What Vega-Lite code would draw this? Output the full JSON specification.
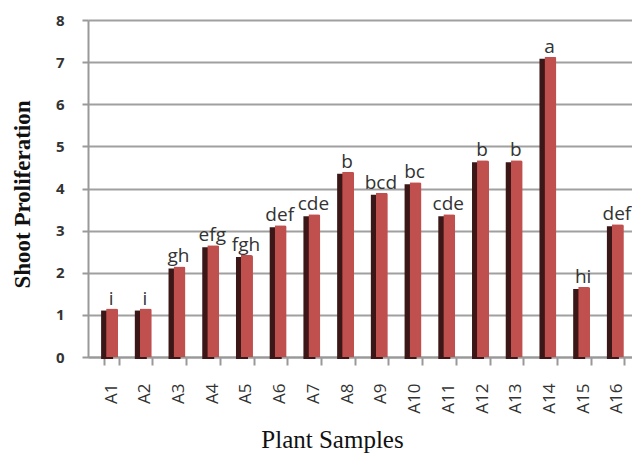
{
  "$schema": "https://vega.github.io/schema/vega-lite/v6.json",
  "width": 552,
  "height": 337,
  "autosize": {"type": "none"},
  "padding": {"left": 88, "top": 20, "right": 0, "bottom": 96},
  "background": "white",
  "data": {"values": [
    {"sample": "A1", "value": 1.15, "label": "i"},
    {"sample": "A2", "value": 1.15, "label": "i"},
    {"sample": "A3", "value": 2.15, "label": "gh"},
    {"sample": "A4", "value": 2.65, "label": "efg"},
    {"sample": "A5", "value": 2.42, "label": "fgh"},
    {"sample": "A6", "value": 3.13, "label": "def"},
    {"sample": "A7", "value": 3.39, "label": "cde"},
    {"sample": "A8", "value": 4.4, "label": "b"},
    {"sample": "A9", "value": 3.9, "label": "bcd"},
    {"sample": "A10", "value": 4.15, "label": "bc"},
    {"sample": "A11", "value": 3.39, "label": "cde"},
    {"sample": "A12", "value": 4.67, "label": "b"},
    {"sample": "A13", "value": 4.67, "label": "b"},
    {"sample": "A14", "value": 7.13, "label": "a"},
    {"sample": "A15", "value": 1.66, "label": "hi"},
    {"sample": "A16", "value": 3.15, "label": "def"}
  ]},
  "encoding": {
    "x": {
      "field": "sample", "type": "nominal", "sort": null,
      "scale": {"paddingInner": 0.55, "paddingOuter": 0.46},
      "axis": {
        "title": "Plant Samples",
        "titleFont": "Liberation Serif", "titleFontSize": 25, "titleFontWeight": "normal", "titleColor": "#111",
        "titleX": 244, "titleY": 90, "titleBaseline": "alphabetic",
        "labelAngle": -90, "labelFont": "Open Sans", "labelFontSize": 17, "labelFontWeight": 500, "labelColor": "#333",
        "labelPadding": 18, "labelAlign": "right", "labelBaseline": "middle",
        "domainColor": "#999", "domainWidth": 2, "tickColor": "#999", "tickWidth": 2, "tickSize": 8, "tickBand": "extent",
        "grid": false
      }
    },
    "y": {
      "field": "value", "type": "quantitative",
      "scale": {"domain": [0, 8], "nice": false},
      "axis": {
        "title": "Shoot  Proliferation",
        "titleFont": "Liberation Serif", "titleFontSize": 23, "titleFontWeight": "bold", "titleColor": "#111",
        "titleX": -66, "titleY": 174, "titleAngle": -90, "titleAlign": "center", "titleBaseline": "middle",
        "values": [0, 1, 2, 3, 4, 5, 6, 7, 8],
        "labelFont": "Open Sans", "labelFontSize": 15, "labelFontWeight": "bold", "labelColor": "#333",
        "labelPadding": 18, "labelOverlap": false,
        "domainColor": "#999", "domainWidth": 2, "tickColor": "#999", "tickWidth": 2, "tickSize": 6,
        "gridColor": "#a0a0a0", "gridWidth": 2
      }
    }
  },
  "layer": [
    {"mark": {"type": "bar", "color": "#3b1717", "xOffset": -4, "yOffset": 2, "width": 12}},
    {"mark": {"type": "bar", "color": "#c0504d", "xOffset": 1, "width": 12, "cornerRadiusTopRight": 2}},
    {"mark": {"type": "text", "dy": -4, "baseline": "alphabetic", "font": "Open Sans", "fontSize": 19, "color": "#333"},
     "encoding": {"text": {"field": "label"}}}
  ],
  "config": {"view": {"stroke": null}}
}
